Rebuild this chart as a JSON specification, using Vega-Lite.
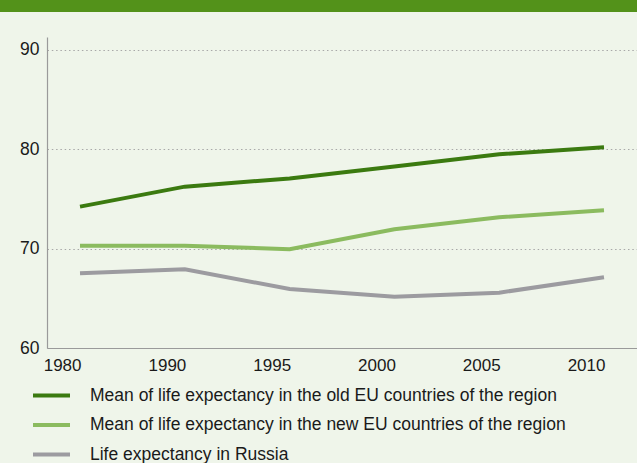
{
  "$schema": "https://vega.github.io/schema/vega-lite/v6.json",
  "background": "#eff5ea",
  "padding": 0,
  "width": 590,
  "height": 311,
  "config": {
    "view": {"stroke": null},
    "font": "Liberation Sans"
  },
  "data": {
    "values": [
      {"year": "1980", "series": "Mean of life expectancy in the old EU countries of the region", "value": 74.23},
      {"year": "1990", "series": "Mean of life expectancy in the old EU countries of the region", "value": 76.24},
      {"year": "1995", "series": "Mean of life expectancy in the old EU countries of the region", "value": 77.07},
      {"year": "2000", "series": "Mean of life expectancy in the old EU countries of the region", "value": 78.26},
      {"year": "2005", "series": "Mean of life expectancy in the old EU countries of the region", "value": 79.5},
      {"year": "2010", "series": "Mean of life expectancy in the old EU countries of the region", "value": 80.2},
      {"year": "1980", "series": "Mean of life expectancy in the new EU countries of the region", "value": 70.3},
      {"year": "1990", "series": "Mean of life expectancy in the new EU countries of the region", "value": 70.3},
      {"year": "1995", "series": "Mean of life expectancy in the new EU countries of the region", "value": 69.94},
      {"year": "2000", "series": "Mean of life expectancy in the new EU countries of the region", "value": 71.95},
      {"year": "2005", "series": "Mean of life expectancy in the new EU countries of the region", "value": 73.15},
      {"year": "2010", "series": "Mean of life expectancy in the new EU countries of the region", "value": 73.86},
      {"year": "1980", "series": "Life expectancy in Russia", "value": 67.52},
      {"year": "1990", "series": "Life expectancy in Russia", "value": 67.92},
      {"year": "1995", "series": "Life expectancy in Russia", "value": 65.94},
      {"year": "2000", "series": "Life expectancy in Russia", "value": 65.17},
      {"year": "2005", "series": "Life expectancy in Russia", "value": 65.57},
      {"year": "2010", "series": "Life expectancy in Russia", "value": 67.11}
    ]
  },
  "layer": [
    {
      "mark": {"type": "rect", "color": "#53921a", "clip": false},
      "encoding": {
        "x": {"datum": -0.07966, "type": "quantitative", "scale": {"domain": [0, 1]}, "axis": null},
        "x2": {"datum": 1},
        "y": {"datum": 95.02, "type": "quantitative", "scale": {"domain": [60, 91.3]}},
        "y2": {"datum": 93.82}
      }
    },
    {
      "mark": {"type": "line", "strokeWidth": 4, "strokeCap": "butt"},
      "encoding": {
        "x": {
          "field": "year", "type": "ordinal", "sort": null,
          "scale": {"type": "point", "padding": 0.315},
          "axis": {
            "title": null, "ticks": false, "labelAlign": "right", "labelBaseline": "top",
            "labelPadding": 9, "labelOffset": 1, "labelFontSize": 17, "labelColor": "#1a1a1a",
            "domainColor": "#9a9a9a", "domainWidth": 1.2, "labelAngle": 0
          }
        },
        "y": {
          "field": "value", "type": "quantitative",
          "scale": {"domain": [60, 91.3], "nice": false, "zero": false},
          "axis": {
            "title": null, "values": [60, 70, 80, 90], "ticks": false, "tickSize": 0,
            "labelPadding": 8, "labelFontSize": 17.5, "labelColor": "#1a1a1a",
            "domainColor": "#9a9a9a", "domainWidth": 1.2,
            "grid": true, "gridColor": "#a8a8a8", "gridDash": [1.5, 2.8], "gridWidth": 1
          }
        },
        "color": {
          "field": "series", "type": "nominal",
          "scale": {
            "domain": [
              "Mean of life expectancy in the old EU countries of the region",
              "Mean of life expectancy in the new EU countries of the region",
              "Life expectancy in Russia"
            ],
            "range": ["#3b7a10", "#8bbb5f", "#9c9ba0"]
          },
          "legend": {
            "title": null, "orient": "none", "direction": "vertical",
            "legendX": -5, "legendY": 349, "padding": 0,
            "labelFontSize": 17.5, "labelColor": "#1a1a1a", "labelLimit": 0,
            "symbolType": "M-2.5,0H2.5", "symbolSize": 219, "symbolStrokeWidth": 4,
            "labelOffset": 29, "rowPadding": 11.5
          }
        }
      }
    }
  ],
  "resolve": {"scale": {"x": "independent"}}
}
